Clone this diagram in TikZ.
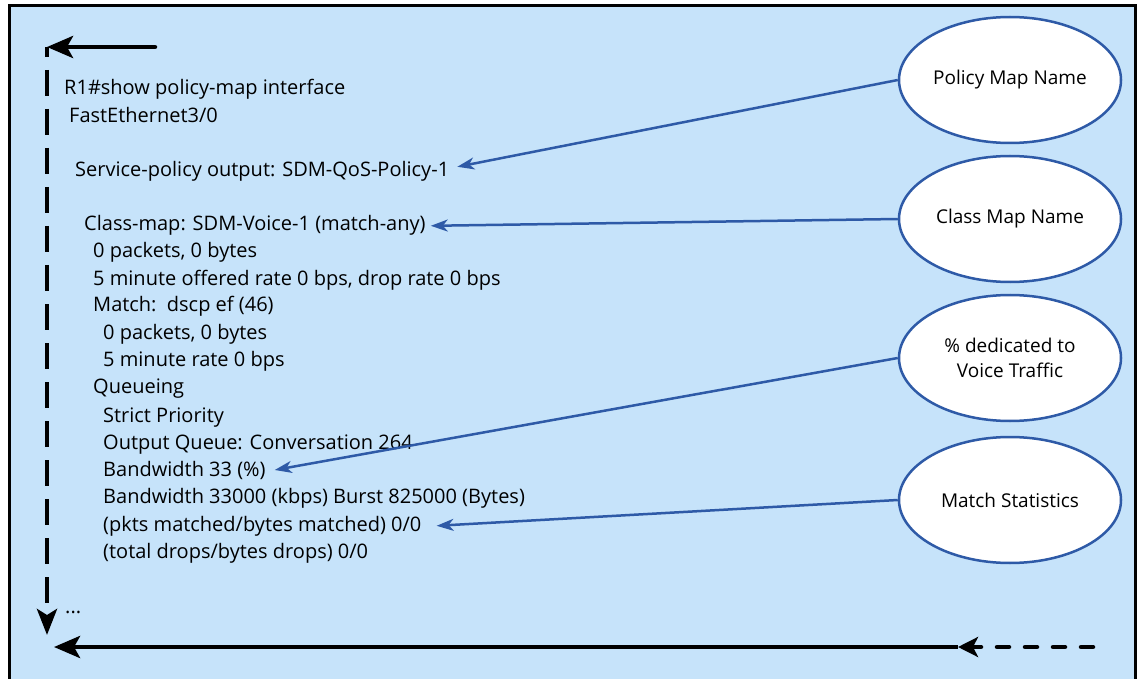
\documentclass[tikz,border=0pt]{standalone}
\usepackage{fontspec}
\setmainfont{Open Sans}
\usetikzlibrary{arrows.meta,shapes.geometric}
\definecolor{panel}{HTML}{C6E3FA}
\definecolor{callblue}{HTML}{2E5AA7}
\tikzset{
  cli/.style={anchor=base west, inner sep=0pt, font=\fontsize{20}{24}\selectfont},
  callout/.style={ellipse, draw=callblue, line width=2.5pt, fill=white,
    minimum width=222pt, minimum height=126pt, inner sep=0pt, align=center,
    font=\fontsize{19}{25}\selectfont},
  pointer/.style={draw=callblue, line width=2.5pt,
    -{Stealth[length=17pt,width=12pt,inset=5pt]}},
  flow/.style={draw=black, line width=4.5pt, line cap=round},
  bighead/.style={-{Stealth[length=26pt,width=22pt,inset=6pt]}},
}
\begin{document}
\begin{tikzpicture}[x=1pt,y=-1pt]
\useasboundingbox (0,0) rectangle (1141,679);
% panel
\draw[line width=3pt, fill=panel] (9.5,5.5) rectangle (1135,700);

% command output
\node[cli] (l1)  at (64,95)  {R1\#show policy-map interface};
\node[cli] (l2)  at (69,123) {FastEthernet3/0};
\node[cli] (svc) at (75,177) {Service-policy output: SDM-QoS-Policy-1};
\node[cli] (cls) at (84,231) {Class-map: SDM-Voice-1 (match-any)};
\node[cli] (l5)  at (93,258) {0 packets, 0 bytes};
\node[cli] (l6)  at (93,285) {5 minute offered rate 0 bps, drop rate 0 bps};
\node[cli] (l7)  at (93,312) {Match:\ \ dscp ef (46)};
\node[cli] (l8)  at (103,339) {0 packets, 0 bytes};
\node[cli] (l9)  at (103,366) {5 minute rate 0 bps};
\node[cli] (l10) at (93,393) {Queueing};
\node[cli] (l11) at (103,422) {Strict Priority};
\node[cli] (l12) at (103,449) {Output Queue: Conversation 264};
\node[cli] (bw)  at (103,476) {Bandwidth 33 (\%)};
\node[cli] (l14) at (103,503) {Bandwidth 33000 (kbps) Burst 825000 (Bytes)};
\node[cli] (pkt) at (103,531) {(pkts matched/bytes matched) 0/0};
\node[cli] (l16) at (103,558) {(total drops/bytes drops) 0/0};
\node[cli] (dots) at (65,613) {...};

% callouts
\node[callout] (pm) at (1010,80)  {Policy Map Name};
\node[callout] (cm) at (1010,219) {Class Map Name};
\node[callout] (vt) at (1010,358) {\% dedicated to\\Voice Traffic};
\node[callout] (ms) at (1010,500) {Match Statistics};

\draw[pointer] (pm.west) -- ([xshift=8pt,yshift=5pt]svc.east);
\draw[pointer] (cm.west) -- ([xshift=5pt]cls.east);
\draw[pointer] (vt.west) -- ([xshift=9pt]bw.east);
\draw[pointer] (ms.west) -- ([xshift=15pt]pkt.east);

% loop markers
\coordinate (tstart) at (155,47);
\coordinate (corner) at (47,47);
\coordinate (vend)   at (47,635);
\coordinate (bstart) at (1093,647);
\coordinate (bmid)   at (958,647);
\coordinate (bend)   at (54,647);

\draw[flow, bighead] (tstart) -- (corner);
\draw[flow, line cap=butt, dash pattern=on 26pt off 13pt, dash phase=16pt,
      -{Stealth[length=26pt,width=20pt,inset=6pt]}] (corner) -- (vend);
\draw[flow, line cap=butt, bighead] (bmid) -- (bend);
\draw[flow, dash pattern=on 12pt off 16pt,
      -{Stealth[length=20pt,width=20pt,inset=5pt]}] (bstart) -- (bmid);
\end{tikzpicture}
\end{document}
